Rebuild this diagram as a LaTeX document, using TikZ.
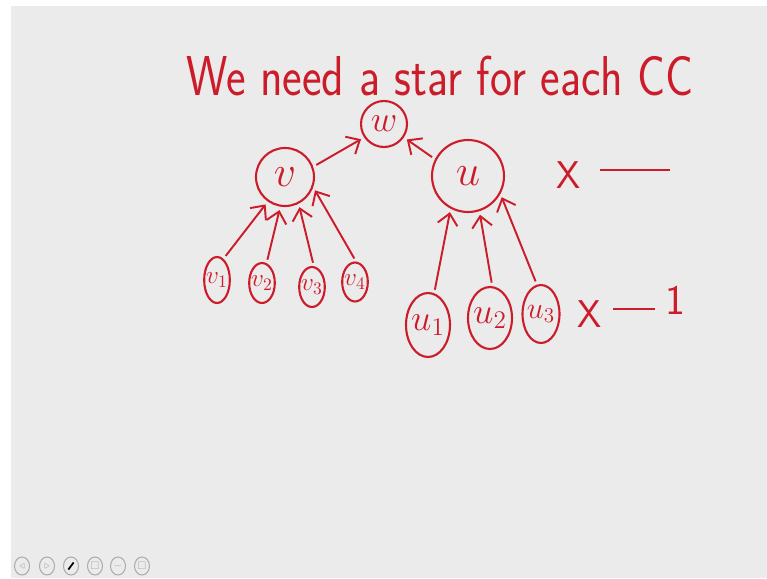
\documentclass[tikz,border=0pt]{standalone}
\usepackage{amsmath}
\usepackage{amsfonts}
\usepackage{tikz}
\usetikzlibrary{shapes.geometric,arrows.meta}
\definecolor{ink}{RGB}{204,28,42}
\definecolor{board}{RGB}{235,235,235}
\definecolor{btngray}{RGB}{172,172,172}
\tikzset{
  star/.style={circle,draw=ink,line width=1.2pt,inner sep=0pt,text=ink},
  leaf/.style={ellipse,draw=ink,line width=1.2pt,inner sep=-1pt,text=ink},
  arr/.style={draw=ink,line width=1.1pt,-{Straight Barb[length=2.2mm,width=4mm]},shorten <=2pt,shorten >=2pt},
  btn/.style={ellipse,draw=btngray,line width=0.6pt,minimum width=0.3cm,minimum height=0.36cm,inner sep=0pt,text=btngray,font=\tiny}
}

\begin{document}
\begin{tikzpicture}[x=0.02cm,y=-0.02cm]
\useasboundingbox (0,0) rectangle (767,578);
\fill[white] (0,0) rectangle (767,578); \fill[board] (11,6) rectangle (767,578);

%Title
\node[text=ink,anchor=base] (title) at (440,95) {\scalebox{0.83}[1]{\fontsize{32}{36}\selectfont\sffamily We need a star for each CC}};

%Stars
\node[star,minimum size=0.92cm,font=\fontsize{20}{22}\selectfont] (w) at (384,124) {$w$};
\node[star,minimum size=1.16cm,font=\fontsize{28}{30}\selectfont] (v) at (285,177) {$v$};
\node[star,minimum size=1.44cm,font=\fontsize{28}{30}\selectfont] (u) at (468,176) {$u$};

\node[leaf,minimum width=0.48cm,minimum height=0.92cm,font=\Large] (v1) at (217,280) {$v_1$}; \node[leaf,minimum width=0.48cm,minimum height=0.8cm,font=\Large] (v2) at (262,283) {$v_2$};
\node[leaf,minimum width=0.48cm,minimum height=0.8cm,font=\Large] (v3) at (312,287) {$v_3$}; \node[leaf,minimum width=0.48cm,minimum height=0.78cm,font=\Large] (v4) at (355,282) {$v_4$};

\node[leaf,minimum width=0.88cm,minimum height=1.28cm,font=\huge] (u1) at (428,325) {$u_1$}; \node[leaf,minimum width=0.88cm,minimum height=1.24cm,font=\huge] (u2) at (490,318) {$u_2$};
\node[leaf,minimum width=0.74cm,minimum height=1.16cm,font=\LARGE] (u3) at (541,314) {$u_3$};

\draw[arr] (v1.73)--(v.235); \draw[arr] (v2.77)--(v.261); \draw[arr] (v3.85)--(v.297); \draw[arr] (v4.87)--(v.340);
\draw[arr] (v.20)--(w.214); \draw[arr] (u.153)--(w.326);
\draw[arr] (u1.79)--(u.242); \draw[arr] (u2.86)--(u.288); \draw[arr] (u3.98)--(u.331);

%right side
\node[text=ink,font=\fontsize{22}{24}\selectfont\sffamily] (x1) at (569,175) {X};
\coordinate (d1a) at (600,170); \coordinate (d1b) at (670,170); \draw[ink,line width=1.2pt] (d1a)--(d1b);
\node[text=ink,font=\fontsize{22}{24}\selectfont\sffamily] (x2) at (590,314) {X};
\coordinate (d2a) at (613,309); \coordinate (d2b) at (655,309); \draw[ink,line width=1.2pt] (d2a)--(d2b);
\node[text=ink,font=\fontsize{24}{26}\selectfont\sffamily] (one) at (675,300) {1};

%buttons
\node[btn] (b1) at (22,566) {$\triangleleft$}; \node[btn] (b2) at (47,566) {$\triangleright$}; \node[btn] (b3) at (71,566) {}; \node[btn] (b4) at (95,566) {$\square$};
\node[btn] (b5) at (118,566) {$-$}; \node[btn] (b6) at (142,566) {$\square$};
\draw[black,line width=1pt] ([xshift=-1.5pt,yshift=-2pt]b3.center)--([xshift=1.5pt,yshift=2pt]b3.center);

\end{tikzpicture}
\end{document}
